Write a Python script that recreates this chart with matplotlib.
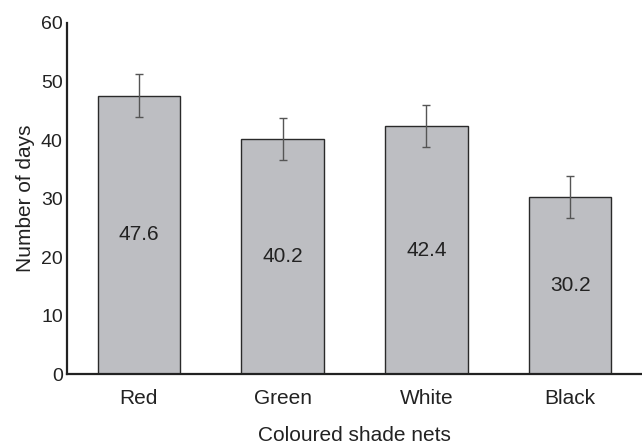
import matplotlib
matplotlib.use("Agg")
import matplotlib.pyplot as plt

# Days per shade net colour
nets = ["Red", "Green", "White", "Black"]
days = [47.6, 40.2, 42.4, 30.2]
errors = [3.6, 3.6, 3.65, 3.6]

plt.rcParams["font.family"] = ["Liberation Sans", "DejaVu Sans"]

fig = plt.figure(figsize=(6.42, 4.48), dpi=100)
ax = fig.add_axes([0.1044, 0.165, 0.8956, 0.7837])

x = range(len(nets))
ax.bar(x, days, width=0.575, color="#bdbec2", edgecolor="#2a2a2a", linewidth=1.0,
       yerr=errors, error_kw=dict(ecolor="#555555", elinewidth=1.0, capsize=3, capthick=1.0))

for xi, v in zip(x, days):
    ax.text(xi, v / 2, f"{v}", ha="center", va="center", fontsize=15, color="#222222")

ax.set_xlim(-0.5, 3.5)
ax.set_ylim(0, 60)
ax.set_yticks([0, 10, 20, 30, 40, 50, 60])
ax.set_xticks(list(x))
ax.set_xticklabels(nets)
ax.tick_params(axis="both", length=0, colors="#222222")
ax.tick_params(axis="x", pad=11, labelsize=15)
ax.tick_params(axis="y", pad=3, labelsize=14)
for s in ["top", "right"]:
    ax.spines[s].set_visible(False)
for s in ["left", "bottom"]:
    ax.spines[s].set_linewidth(1.6)
    ax.spines[s].set_color("#222222")

ax.set_ylabel("Number of days", fontsize=15, color="#222222", labelpad=4)
ax.set_xlabel("Coloured shade nets", fontsize=15, color="#222222", labelpad=13)

fig.savefig("out.png", dpi=100)
